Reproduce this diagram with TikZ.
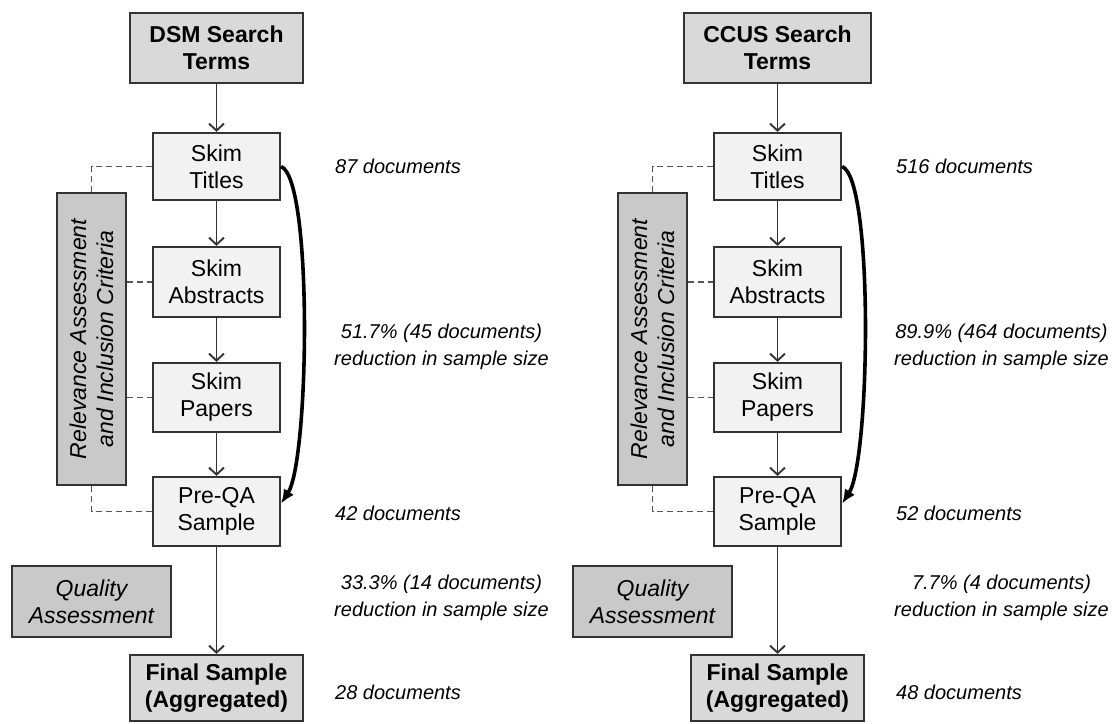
\documentclass[tikz,border=0pt]{standalone}
\usepackage{fontspec}
\setmainfont{Liberation Sans}
\usetikzlibrary{arrows.meta}
\usetikzlibrary{positioning}

\definecolor{boxline}{HTML}{333333}
\definecolor{termfill}{HTML}{D9D9D9}
\definecolor{sidefill}{HTML}{C9C9C9}
\definecolor{skimfill}{HTML}{F2F2F2}
\definecolor{linkgray}{HTML}{555555}

\tikzset{
  boxtext/.style={align=center, inner sep=0pt, draw=boxline, line width=2.2pt},
  termbox/.style={boxtext, fill=termfill, minimum width=173pt, minimum height=70pt,
                  font=\fontsize{23}{27}\selectfont\bfseries},
  skimbox/.style={boxtext, fill=skimfill, minimum width=127pt, minimum height=69pt,
                  font=\fontsize{23}{27}\selectfont},
  sidebox/.style={boxtext, fill=sidefill, font=\fontsize{23}{27}\selectfont\itshape},
  note/.style={font=\fontsize{20}{27}\selectfont\itshape, align=center, inner sep=0pt},
  flow/.style={draw=boxline, line width=1.9pt, -{Straight Barb[length=7pt,width=15pt]}},
  link/.style={draw=linkgray, line width=1.7pt, dash pattern=on 6pt off 4pt},
  shortcut/.style={draw=black, line width=3.6pt, -{Latex[length=14pt,width=12pt]}},
}

\begin{document}
\begin{tikzpicture}[x=1pt, y=-1pt]

\useasboundingbox (0,0) rectangle (1115,723);

% --- DSM column ---
\node[termbox] (searchL) at (216.5,48) {DSM Search\\Terms};
\node[skimbox, minimum height=67pt] (titlesL) at (216.5,166.5) {Skim\\Titles};
\node[skimbox, minimum height=70pt] (absL) at (216.5,282) {Skim\\Abstracts};
\node[skimbox] (papersL) at (216.5,397.5) {Skim\\Papers};
\node[skimbox] (preqaL) at (216.5,511.5) {Pre-QA\\Sample};
\node[termbox, minimum height=66pt] (finalL) at (216.5,688) {Final Sample\\(Aggregated)};

% rotated box: east = top, west = bottom, south = right side
\node[sidebox, rotate=90, minimum width=292pt, minimum height=69pt] (relL) at (91.5,339)
     {Relevance Assessment\\and Inclusion Criteria};
\node[sidebox, minimum width=159pt, minimum height=71pt] (qualL) at (91.5,601.5) {Quality\\Assessment};

\draw[flow] (searchL) -- (titlesL);
\draw[flow] (titlesL) -- (absL);
\draw[flow] (absL) -- (papersL);
\draw[flow] (papersL) -- (preqaL);
\draw[flow] (preqaL) -- (finalL);

% dashed links to the criteria box
\draw[link] (titlesL.west) -| (relL.east);
\draw[link] (absL.west -| relL.south) -- (absL.west);
\draw[link] (papersL.west -| relL.south) -- (papersL.west);
\draw[link] (preqaL.west) -| (relL.west);

\draw[shortcut] (titlesL.east) .. controls +(32,13) and +(28,-43) .. ([yshift=8pt]preqaL.east);

\node[note, anchor=west] (docsTL) at (335,166) {87 documents};
\node[note] (cutAL) at (441.5,346.5) {51.7\% (45 documents)\\reduction in sample size};
\node[note, anchor=west] (docsPL) at (335,513) {42 documents};
\node[note] (cutBL) at (441.5,598) {33.3\% (14 documents)\\reduction in sample size};
\node[note, anchor=west] (docsFL) at (335,692) {28 documents};

% --- CCUS column ---
\node[termbox, minimum width=187pt] (searchR) at (777.5,48) {CCUS Search\\Terms};
\node[skimbox, minimum height=67pt] (titlesR) at (777.5,166.5) {Skim\\Titles};
\node[skimbox, minimum height=70pt] (absR) at (777.5,282) {Skim\\Abstracts};
\node[skimbox] (papersR) at (777.5,397.5) {Skim\\Papers};
\node[skimbox] (preqaR) at (777.5,511.5) {Pre-QA\\Sample};
\node[termbox, minimum height=66pt] (finalR) at (777.5,688) {Final Sample\\(Aggregated)};

\node[sidebox, rotate=90, minimum width=292pt, minimum height=69pt] (relR) at (652.5,339)
     {Relevance Assessment\\and Inclusion Criteria};
\node[sidebox, minimum width=159pt, minimum height=71pt] (qualR) at (652.5,601.5) {Quality\\Assessment};

\draw[flow] (searchR) -- (titlesR);
\draw[flow] (titlesR) -- (absR);
\draw[flow] (absR) -- (papersR);
\draw[flow] (papersR) -- (preqaR);
\draw[flow] (preqaR) -- (finalR);

\draw[link] (titlesR.west) -| (relR.east);
\draw[link] (absR.west -| relR.south) -- (absR.west);
\draw[link] (papersR.west -| relR.south) -- (papersR.west);
\draw[link] (preqaR.west) -| (relR.west);

\draw[shortcut] (titlesR.east) .. controls +(32,13) and +(28,-43) .. ([yshift=8pt]preqaR.east);

\node[note, anchor=west] (docsTR) at (896,166) {516 documents};
\node[note] (cutAR) at (1001.5,346.5) {89.9\% (464 documents)\\reduction in sample size};
\node[note, anchor=west] (docsPR) at (896,513) {52 documents};
\node[note] (cutBR) at (1001.5,598) {7.7\% (4 documents)\\reduction in sample size};
\node[note, anchor=west] (docsFR) at (896,692) {48 documents};

\end{tikzpicture}
\end{document}
